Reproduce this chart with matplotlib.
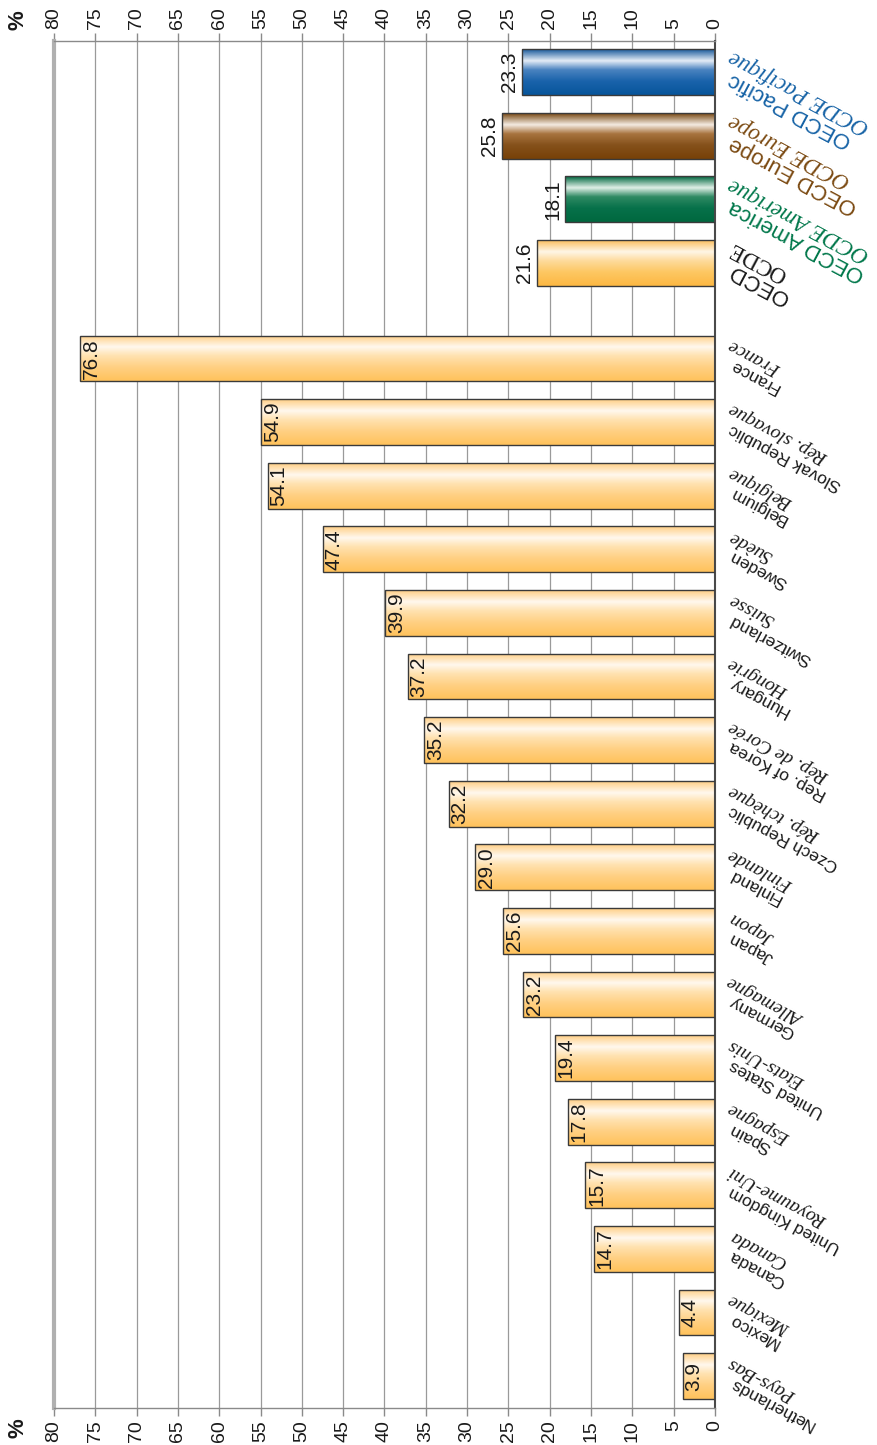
import numpy as np
import matplotlib
matplotlib.use("Agg")
import matplotlib.pyplot as plt

plt.rcParams['font.family'] = ['Liberation Sans', 'DejaVu Sans']

# donnees
groups = ['OECD Pacific', 'OECD Europe', 'OECD America', 'OECD']
groups_fr = ['OCDE Pacifique', 'OCDE Europe', 'OCDE Amérique', 'OCDE']
group_vals = [23.3, 25.8, 18.1, 21.6]

countries = ['France', 'Slovak Republic', 'Belgium', 'Sweden', 'Switzerland', 'Hungary',
             'Rep. of Korea', 'Czech Republic', 'Finland', 'Japan', 'Germany',
             'United States', 'Spain', 'United Kingdom', 'Canada', 'Mexico', 'Netherlands']
countries_fr = ['France', 'Rép. slovaque', 'Belgique', 'Suède', 'Suisse', 'Hongrie',
                'Rép. de Corée', 'Rép. tchèque', 'Finlande', 'Japon', 'Allemagne',
                'Etats-Unis', 'Espagne', 'Royaume-Uni', 'Canada', 'Mexique', 'Pays-Bas']
country_vals = [76.8, 54.9, 54.1, 47.4, 39.9, 37.2, 35.2, 32.2, 29.0, 25.6, 23.2,
                19.4, 17.8, 15.7, 14.7, 4.4, 3.9]

ticks = list(range(0, 85, 5))

# couleurs des barres (degrade "cylindre")
pal_orange = ['#ffcf86', '#fff8ee', '#ffe2b0', '#ffd083', '#ffc25c']
pal_oecd = ['#fcc060', '#fff6e6', '#fedb9c', '#fdc762', '#fdb843']
pal_blue = ['#1c5c9c', '#e4ecf6', '#4a83c0', '#1a63ab', '#07559b']
pal_brown = ['#7a4a14', '#f4ebe2', '#a8743f', '#85511b', '#774107']
pal_green = ['#006840', '#e0efe7', '#2f8a63', '#07714a', '#00683f']
group_pals = [pal_blue, pal_brown, pal_green, pal_oecd]
group_txt = ['#1763a6', '#7b4a12', '#00774a', '#1a1a1a']


def hex2rgb(h):
    return [int(h[i:i + 2], 16) / 255 for i in (1, 3, 5)]


def degrade(pal):
    stops = [0.0, 0.25, 0.45, 0.7, 1.0]
    t = np.linspace(0, 1, 60)
    cols = np.array([hex2rgb(c) for c in pal])
    img = np.stack([np.interp(t, stops, cols[:, k]) for k in range(3)], axis=1)
    return img[:, None, :].repeat(2, axis=1)


fig = plt.figure(figsize=(8.77, 14.45), dpi=100)
ax = fig.add_axes([54 / 877, 37 / 1445, 661 / 877, 1367 / 1445])

ypos_g = [0, 1, 2, 3]
ypos_c = [4.5 + i for i in range(len(countries))]
h = 0.72

all_y = ypos_g + ypos_c
all_v = group_vals + country_vals
all_pal = group_pals + [pal_orange] * len(countries)

bars = ax.barh(all_y, all_v, height=h, color='none', edgecolor='#3a3a3a', lw=1.0, zorder=3)
for b, y, v, pal in zip(bars, all_y, all_v, all_pal):
    im = ax.imshow(degrade(pal), extent=(0, v, y + h / 2, y - h / 2), origin='upper',
                   aspect='auto', interpolation='bilinear', zorder=2)
    im.set_clip_path(b)

# etiquettes des valeurs
for y, v in zip(ypos_g, group_vals):
    ax.annotate(f'{v:.1f}', xy=(v, y), xytext=(-9, 0), textcoords='offset points',
                rotation=90, ha='center', va='center', fontsize=15, color='#1a1a1a', zorder=5)
for y, v in zip(ypos_c, country_vals):
    ax.annotate(f'{v:.1f}', xy=(v, y), xytext=(8, 0), textcoords='offset points',
                rotation=90, ha='center', va='center', fontsize=15, color='#1a1a1a', zorder=5)

# noms des pays / zones
rot = 152
for y, en, fr, c in zip(ypos_g, groups, groups_fr, group_txt):
    ax.annotate(en, xy=(0, y), xytext=(11, -4), textcoords='offset points', rotation=rot,
                rotation_mode='anchor', ha='right', va='center', fontsize=16, color=c,
                annotation_clip=False)
    ax.annotate(fr, xy=(0, y), xytext=(11, 12), textcoords='offset points', rotation=rot,
                rotation_mode='anchor', ha='right', va='center', fontsize=16.5, color=c,
                family='Liberation Serif', style='italic' if en != 'OECD' else 'normal',
                annotation_clip=False)
for y, en, fr in zip(ypos_c, countries, countries_fr):
    ax.annotate(en, xy=(0, y), xytext=(11, -4), textcoords='offset points', rotation=rot,
                rotation_mode='anchor', ha='right', va='center', fontsize=12.5, color='#1a1a1a',
                annotation_clip=False)
    ax.annotate(fr, xy=(0, y), xytext=(11, 10.5), textcoords='offset points', rotation=rot,
                rotation_mode='anchor', ha='right', va='center', fontsize=14, color='#1a1a1a',
                family='Liberation Serif', style='italic', annotation_clip=False)

ax.set_xlim(80, 0)
ax.set_ylim(21.0, -0.49)
ax.set_xticks(ticks)
ax.set_xticklabels([str(t) for t in ticks], rotation=90, fontsize=14, color='#1a1a1a')
ax.set_yticks([])
ax.tick_params(axis='x', top=True, labeltop=True, bottom=True, labelbottom=True,
               direction='out', length=6, width=1, color='#8a8a8a', pad=3)
ax.grid(axis='x', color='#9a9a9a', lw=0.9, zorder=1)
ax.set_axisbelow(True)

for s in ['top', 'bottom']:
    ax.spines[s].set_color('#8a8a8a')
    ax.spines[s].set_linewidth(1)
ax.spines['left'].set_color('#b0b0b0')
ax.spines['left'].set_linewidth(3)
ax.spines['right'].set_color('#4a4a4a')
ax.spines['right'].set_linewidth(1.5)

fig.text(18 / 877, 1 - 20 / 1445, '%', rotation=90, fontsize=16, fontweight='bold',
         ha='center', va='center', color='#1a1a1a')
fig.text(18 / 877, 1 - 1428 / 1445, '%', rotation=90, fontsize=16, fontweight='bold',
         ha='center', va='center', color='#1a1a1a')

fig.savefig('out.png', dpi=100)
